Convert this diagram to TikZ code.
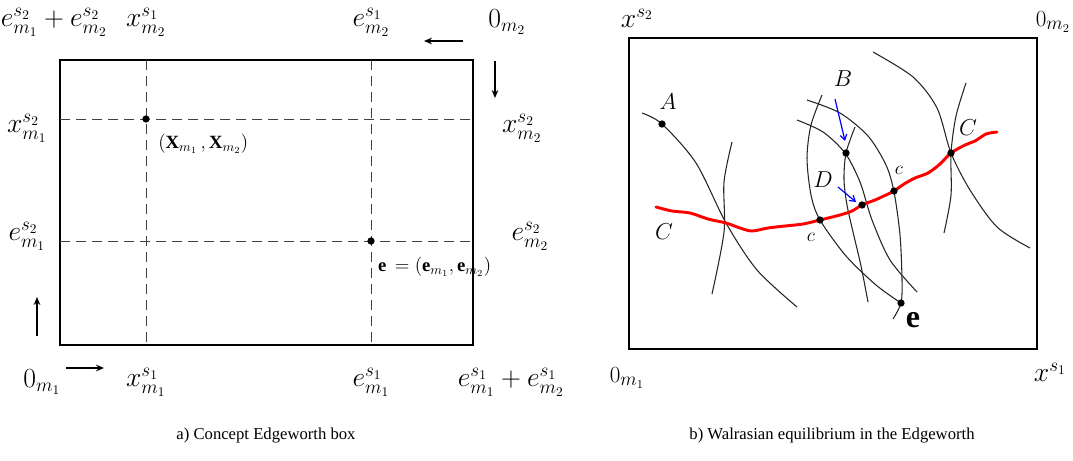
\documentclass[tikz,border=0pt]{standalone}
\usepackage{fontspec}
\setmainfont{Liberation Serif}
\usepackage{xcolor}
\usetikzlibrary{arrows.meta,positioning,calc}

\begin{document}
\begin{tikzpicture}[
  x=0.75pt, y=-0.75pt,
  every node/.style={inner sep=1pt},
  lbl/.style={font=\fontsize{20}{22}\selectfont},
  lbls/.style={font=\fontsize{19}{21}\selectfont},
  pt/.style={font=\fontsize{17}{19}\selectfont},
  tiny/.style={font=\fontsize{14}{16}\selectfont},
  caption/.style={font=\fontsize{12.5}{15}\selectfont},
  frame/.style={line width=1.3pt},
  grid/.style={dash pattern=on 7.5pt off 4.5pt, line width=0.6pt, black!75},
  dot/.style={circle, fill, inner sep=0pt, minimum size=5.5pt},
  indiff/.style={line width=0.8pt, black!85},
  pointer/.style={-{Stealth[length=6pt,width=5pt]}, line width=1pt},
  bluearr/.style={-{Straight Barb[length=4pt,width=5pt]}, blue, line width=0.9pt},
  contract/.style={red, line width=2.2pt, line join=round, line cap=round}
]
\useasboundingbox (0,0) rectangle (1073,460);

% ---- a) concept Edgeworth box
\draw[frame] (60,60) rectangle (473,345);
\coordinate (xa-t) at (146,60);   \coordinate (xa-b) at (146,345);
\coordinate (ea-t) at (371,60);   \coordinate (ea-b) at (371,345);
\coordinate (xa-l) at (60,119);   \coordinate (xa-r) at (473,119);
\coordinate (ea-l) at (60,241);   \coordinate (ea-r) at (473,241);
\draw[grid] (xa-t) -- (xa-b);
\draw[grid] (ea-t) -- (ea-b);
\draw[grid] (xa-l) -- (xa-r);
\draw[grid] (ea-l) -- (ea-r);

\node[dot] (X) at (146,119) {};
\node[dot] (E) at (371,241) {};
\node[tiny, below right=8pt and 6pt of X] (Xlab) {$(\mathbf{X}_{m_1}\,,\mathbf{X}_{m_2})$};
\node[tiny, below right=9pt and 2pt of E] (Elab) {$\mathbf{e}\,=(\mathbf{e}_{m_1},\mathbf{e}_{m_2})$};

% top and bottom labels
\node[lbl] (sum2)  at (54,22)   {$e^{s_2}_{m_1}+e^{s_2}_{m_2}$};
\node[lbl] (x2s1)  at (146,22)  {$x^{s_1}_{m_2}$};
\node[lbl] (e2s1)  at (371,22)  {$e^{s_1}_{m_2}$};
\node[lbl] (o2)    at (507,22)  {$0_{m_2}$};
\node[lbl] (o1)    at (42,382)  {$0_{m_1}$};
\node[lbl] (x1s1)  at (146,382) {$x^{s_1}_{m_1}$};
\node[lbl] (e1s1)  at (371,382) {$e^{s_1}_{m_1}$};
\node[lbl] (sum1)  at (511,382) {$e^{s_1}_{m_1}+e^{s_1}_{m_2}$};
% side labels
\node[lbl] (x1s2)  at (27,128)  {$x^{s_2}_{m_1}$};
\node[lbl] (e1s2)  at (27,236)  {$e^{s_2}_{m_1}$};
\node[lbl] (x2s2)  at (522,128) {$x^{s_2}_{m_2}$};
\node[lbl] (e2s2)  at (530,236) {$e^{s_2}_{m_2}$};

% direction arrows
\coordinate (l-a) at (463,41);  \coordinate (l-b) at (424,41);
\coordinate (d-a) at (495,61);  \coordinate (d-b) at (495,98);
\coordinate (u-a) at (37,336);  \coordinate (u-b) at (37,297);
\coordinate (r-a) at (66,368);  \coordinate (r-b) at (104,368);
\draw[pointer] (l-a) -- (l-b);
\draw[pointer] (d-a) -- (d-b);
\draw[pointer] (u-a) -- (u-b);
\draw[pointer] (r-a) -- (r-b);

\node[caption] (capa) at (266,436) {a) Concept Edgeworth box};

% ---- b) Walrasian equilibrium
\draw[line width=1.5pt] (629,38) rectangle (1037,349);

% indifference curves
\draw[indiff] plot[smooth] coordinates {(642,113) (662,124) (696,163) (726,223) (757,270) (797,307)};
\draw[indiff] plot[smooth] coordinates {(732,142) (724,182) (724,232) (712,294)};
\draw[indiff] plot[smooth] coordinates {(807,100) (840,113) (868,136) (886,165) (894,192) (900,235) (902,280) (901,303) (893,319)};
\draw[indiff] plot[smooth] coordinates {(797,120) (823,132) (845,153) (860,182) (872,220) (890,260) (917,292)};
\draw[indiff] plot[smooth] coordinates {(822,95) (811,125) (807,158) (811,195) (820,220) (846,256) (876,285) (901,303)};
\draw[indiff] plot[smooth] coordinates {(855,127) (846,153) (844,180) (847,205) (853,232) (861,266) (868,302)};
\draw[indiff] plot[smooth] coordinates {(873,52) (913,77) (937,108) (951,153) (970,190) (997,227) (1030,248)};
\draw[indiff] plot[smooth] coordinates {(966,83) (956,116) (951,153) (951,195) (944,233)};

% contract curve
\draw[contract] plot[smooth, tension=0.5] coordinates {(656,207) (672,211) (690,213) (708,219) (726,223)
  (740,228) (752,231) (768,228) (785,226) (803,224) (820,220) (840,215) (852,211) (862,205)
  (875,200) (886,195) (894,191) (904,184) (915,178) (928,173) (940,164) (951,153)
  (965,145) (975,141) (986,134) (997,132)};

% points
\node[dot] (A)  at (662,124) {};
\node[dot] (B)  at (846,153) {};
\node[dot] (D)  at (862,205) {};
\node[dot] (c1) at (820,220) {};
\node[dot] (c2) at (894,191) {};
\node[dot] (C)  at (951,153) {};
\node[dot] (e)  at (901,303) {};

\node[pt] (Alab) at (668,102) {$A$};
\node[pt] (Blab) at (843,79) {$B$};
\node[pt] (Dlab) at (823,180) {$D$};
\node[pt] (Clab) at (664,232) {$C$};
\node[pt] (CRlab) at (968,128) {$C$};
\node[font=\fontsize{14}{16}\selectfont] (c1lab) at (811,237) {$c$};
\node[font=\fontsize{14}{16}\selectfont] (c2lab) at (899,170) {$c$};
\node[font=\fontsize{24}{26}\selectfont] (elab) at (913,320) {$\mathbf{e}$};

\coordinate (b-a) at (835,99);  \coordinate (b-b) at (845,141);
\coordinate (d-s) at (838,187); \coordinate (d-t) at (856,202);
\draw[bluearr] (b-a) -- (b-b);
\draw[bluearr] (d-s) -- (d-t);

% axes labels
\node[lbl]  (xs2) at (637,18)   {$x^{s_2}$};
\node[lbls] (ob2) at (1053,22)  {$0_{m_2}$};
\node[lbls] (ob1) at (627,378)  {$0_{m_1}$};
\node[lbl]  (xs1) at (1050,372) {$x^{s_1}$};

\node[caption] (capb) at (832,436) {b) Walrasian equilibrium in the Edgeworth};
\end{tikzpicture}
\end{document}
